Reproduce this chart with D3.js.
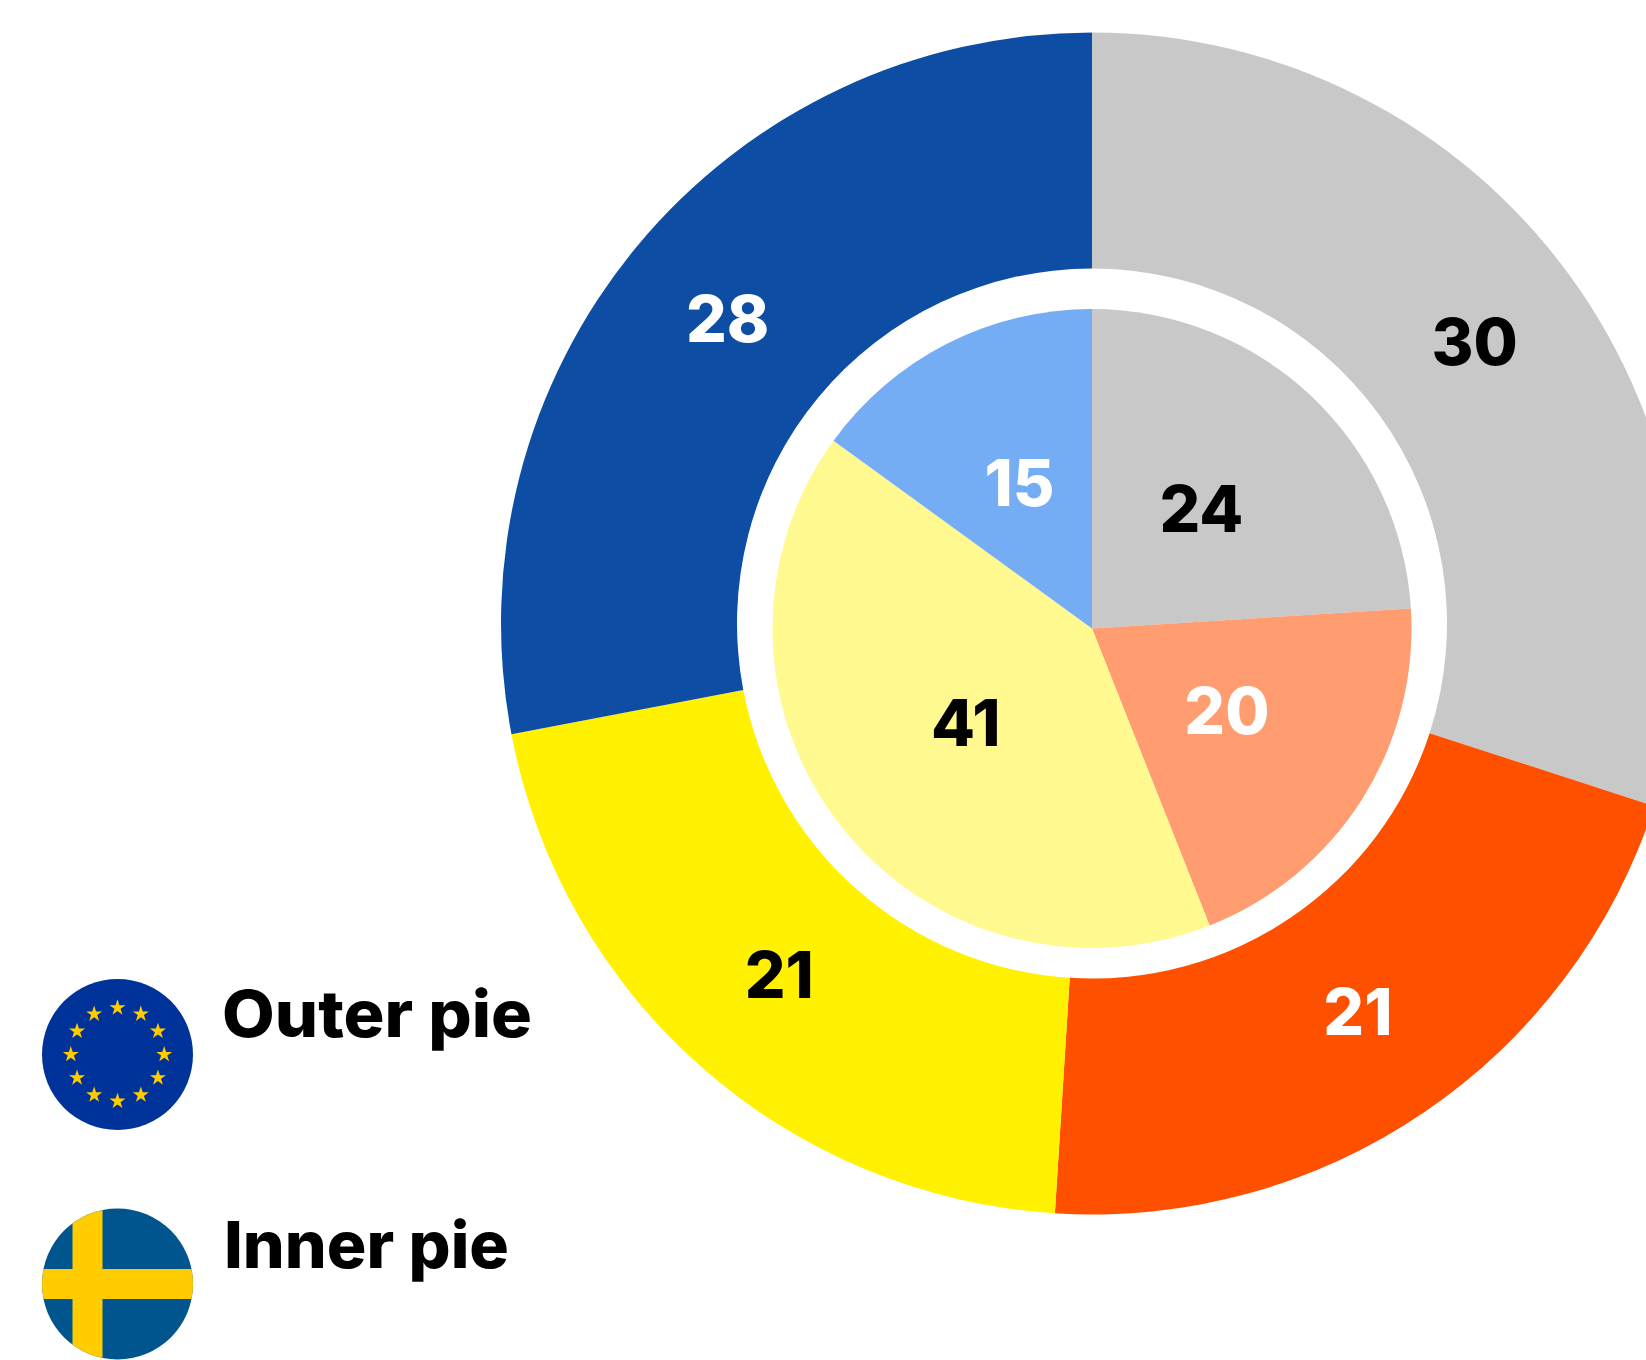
<!DOCTYPE html>
<html>
<head>
<meta charset="utf-8">
<script src="https://cdn.jsdelivr.net/npm/d3@7"></script>
<style>
html,body{margin:0;padding:0;background:#fff;overflow:hidden}
svg{display:block}
text{font-family:Inter,"Open Sans",sans-serif;font-weight:800}
</style>
</head>
<body>
<script>
const outerValues = [30, 21, 21, 28];
const innerValues = [24, 20, 41, 15];
const outerColors = ["#C8C8C8", "#FF5000", "#FFF100", "#0E4DA4"];
const innerColors = ["#C8C8C8", "#FF9C70", "#FFF98F", "#75ADF5"];
const outerLabelColors = ["#000", "#fff", "#000", "#fff"];
const innerLabelColors = ["#000", "#fff", "#000", "#fff"];
const legendLabels = ["Outer pie", "Inner pie"];

const W = 1646, H = 1360;
const svg = d3.select("body").append("svg").attr("width", W).attr("height", H);
const pie = d3.pie().sort(null).value(d => d);

function ring(values, colors, labelColors, cx, cy, r0, r1) {
  const arc = d3.arc().innerRadius(r0).outerRadius(r1);
  const g = svg.append("g").attr("transform", `translate(${cx},${cy})`);
  const arcs = pie(values);
  g.selectAll("path").data(arcs).join("path")
    .attr("d", arc).attr("fill", (d, i) => colors[i]);
  g.selectAll("text").data(arcs).join("text")
    .attr("transform", d => { const c = arc.centroid(d); return `translate(${c[0]},${c[1] + 20})`; })
    .attr("text-anchor", "middle")
    .attr("font-size", 64)
    .attr("fill", (d, i) => labelColors[i])
    .text(d => d.value);
}
ring(outerValues, outerColors, outerLabelColors, 1092, 623.5, 355, 591);
ring(innerValues, innerColors, innerLabelColors, 1092, 628.5, 0, 319.5);

// Legend flags
const defs = svg.append("defs");
defs.append("clipPath").attr("id", "flagClip").append("circle").attr("r", 75.5);

const eu = svg.append("g").attr("transform", "translate(117.5,1054.5)");
eu.append("circle").attr("r", 75.5).attr("fill", "#003399");
const starAngle = d3.scaleLinear().domain([0, 12]).range([0, 2 * Math.PI]);
eu.selectAll("path").data(d3.range(12)).join("path")
  .attr("d", d3.symbol(d3.symbolStar, 80))
  .attr("fill", "#FFCC00")
  .attr("transform", i => `translate(${46.7 * Math.sin(starAngle(i))},${-46.7 * Math.cos(starAngle(i))})`);

const se = svg.append("g").attr("transform", "translate(117.5,1284)");
const seG = se.append("g").attr("clip-path", "url(#flagClip)");
seG.append("rect").attr("x", -76).attr("y", -76).attr("width", 152).attr("height", 152).attr("fill", "#00558F");
seG.append("rect").attr("x", -45).attr("y", -76).attr("width", 30).attr("height", 152).attr("fill", "#FFCC00");
seG.append("rect").attr("x", -76).attr("y", -15).attr("width", 152).attr("height", 30).attr("fill", "#FFCC00");

// Legend text
svg.append("text").attr("x", 222).attr("y", 1037).attr("font-size", 65)
  .attr("textLength", 310).attr("lengthAdjust", "spacingAndGlyphs").text(legendLabels[0]);
svg.append("text").attr("x", 224).attr("y", 1268).attr("font-size", 65)
  .attr("textLength", 285).attr("lengthAdjust", "spacingAndGlyphs").text(legendLabels[1]);
</script>
</body>
</html>
